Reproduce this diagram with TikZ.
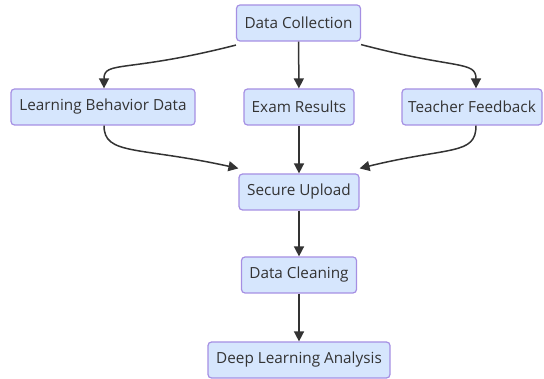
\documentclass[tikz,border=0pt]{standalone}
\usepackage{fontspec}
\setmainfont{Open Sans}
\usetikzlibrary{arrows.meta}
\definecolor{boxfill}{HTML}{D6E6FD}
\definecolor{boxline}{HTML}{A58FE3}
\definecolor{inkgray}{HTML}{333333}
\tikzset{
  flowbox/.style={draw=boxline, fill=boxfill, line width=1.2pt, rounded corners=3.5pt,
    minimum height=36pt, inner sep=0pt, text=inkgray, font=\fontsize{15.3}{18}\selectfont},
  link/.style={draw=inkgray, line width=1.5pt, -{Triangle[length=10pt,width=10pt]}}
}
\begin{document}
\begin{tikzpicture}[x=1pt,y=-1pt]
\useasboundingbox (0,0) rectangle (544,379);
% process boxes
\node[flowbox, minimum width=124pt] (dc)  at (298.5,23)  {Data Collection};
\node[flowbox, minimum width=184pt] (lbd) at (103,107)   {Learning Behavior Data};
\node[flowbox, minimum width=110pt] (er)  at (299,107)   {Exam Results};
\node[flowbox, minimum width=140pt] (tf)  at (472,107)   {Teacher Feedback};
\node[flowbox, minimum width=120pt] (su)  at (299,192)   {Secure Upload};
\node[flowbox, minimum width=115pt] (dcl) at (299,275)   {Data Cleaning};
\node[flowbox, minimum width=182pt] (dla) at (299,360)   {Deep Learning Analysis};
% fan-out from collection
\draw[link] ([yshift=-3.5pt]dc.south west) .. controls +(-110,28) and +(0,-28) .. ([xshift=1pt]lbd.north);
\draw[link] (dc) -- (er);
\draw[link] ([yshift=-3pt]dc.south east) .. controls +(95,25) and +(0,-28) .. ([xshift=4pt]tf.north);
% merge into upload
\draw[link] ([xshift=1pt]lbd.south) .. controls +(0,30) and +(-100,-22) .. ([yshift=5pt]su.north west);
\draw[link] (er) -- (su);
\draw[link] ([xshift=4pt]tf.south) .. controls +(0,30) and +(90,-22) .. ([yshift=5pt]su.north east);
% pipeline
\draw[link] (su) -- (dcl);
\draw[link] (dcl) -- (dla);
\end{tikzpicture}
\end{document}
